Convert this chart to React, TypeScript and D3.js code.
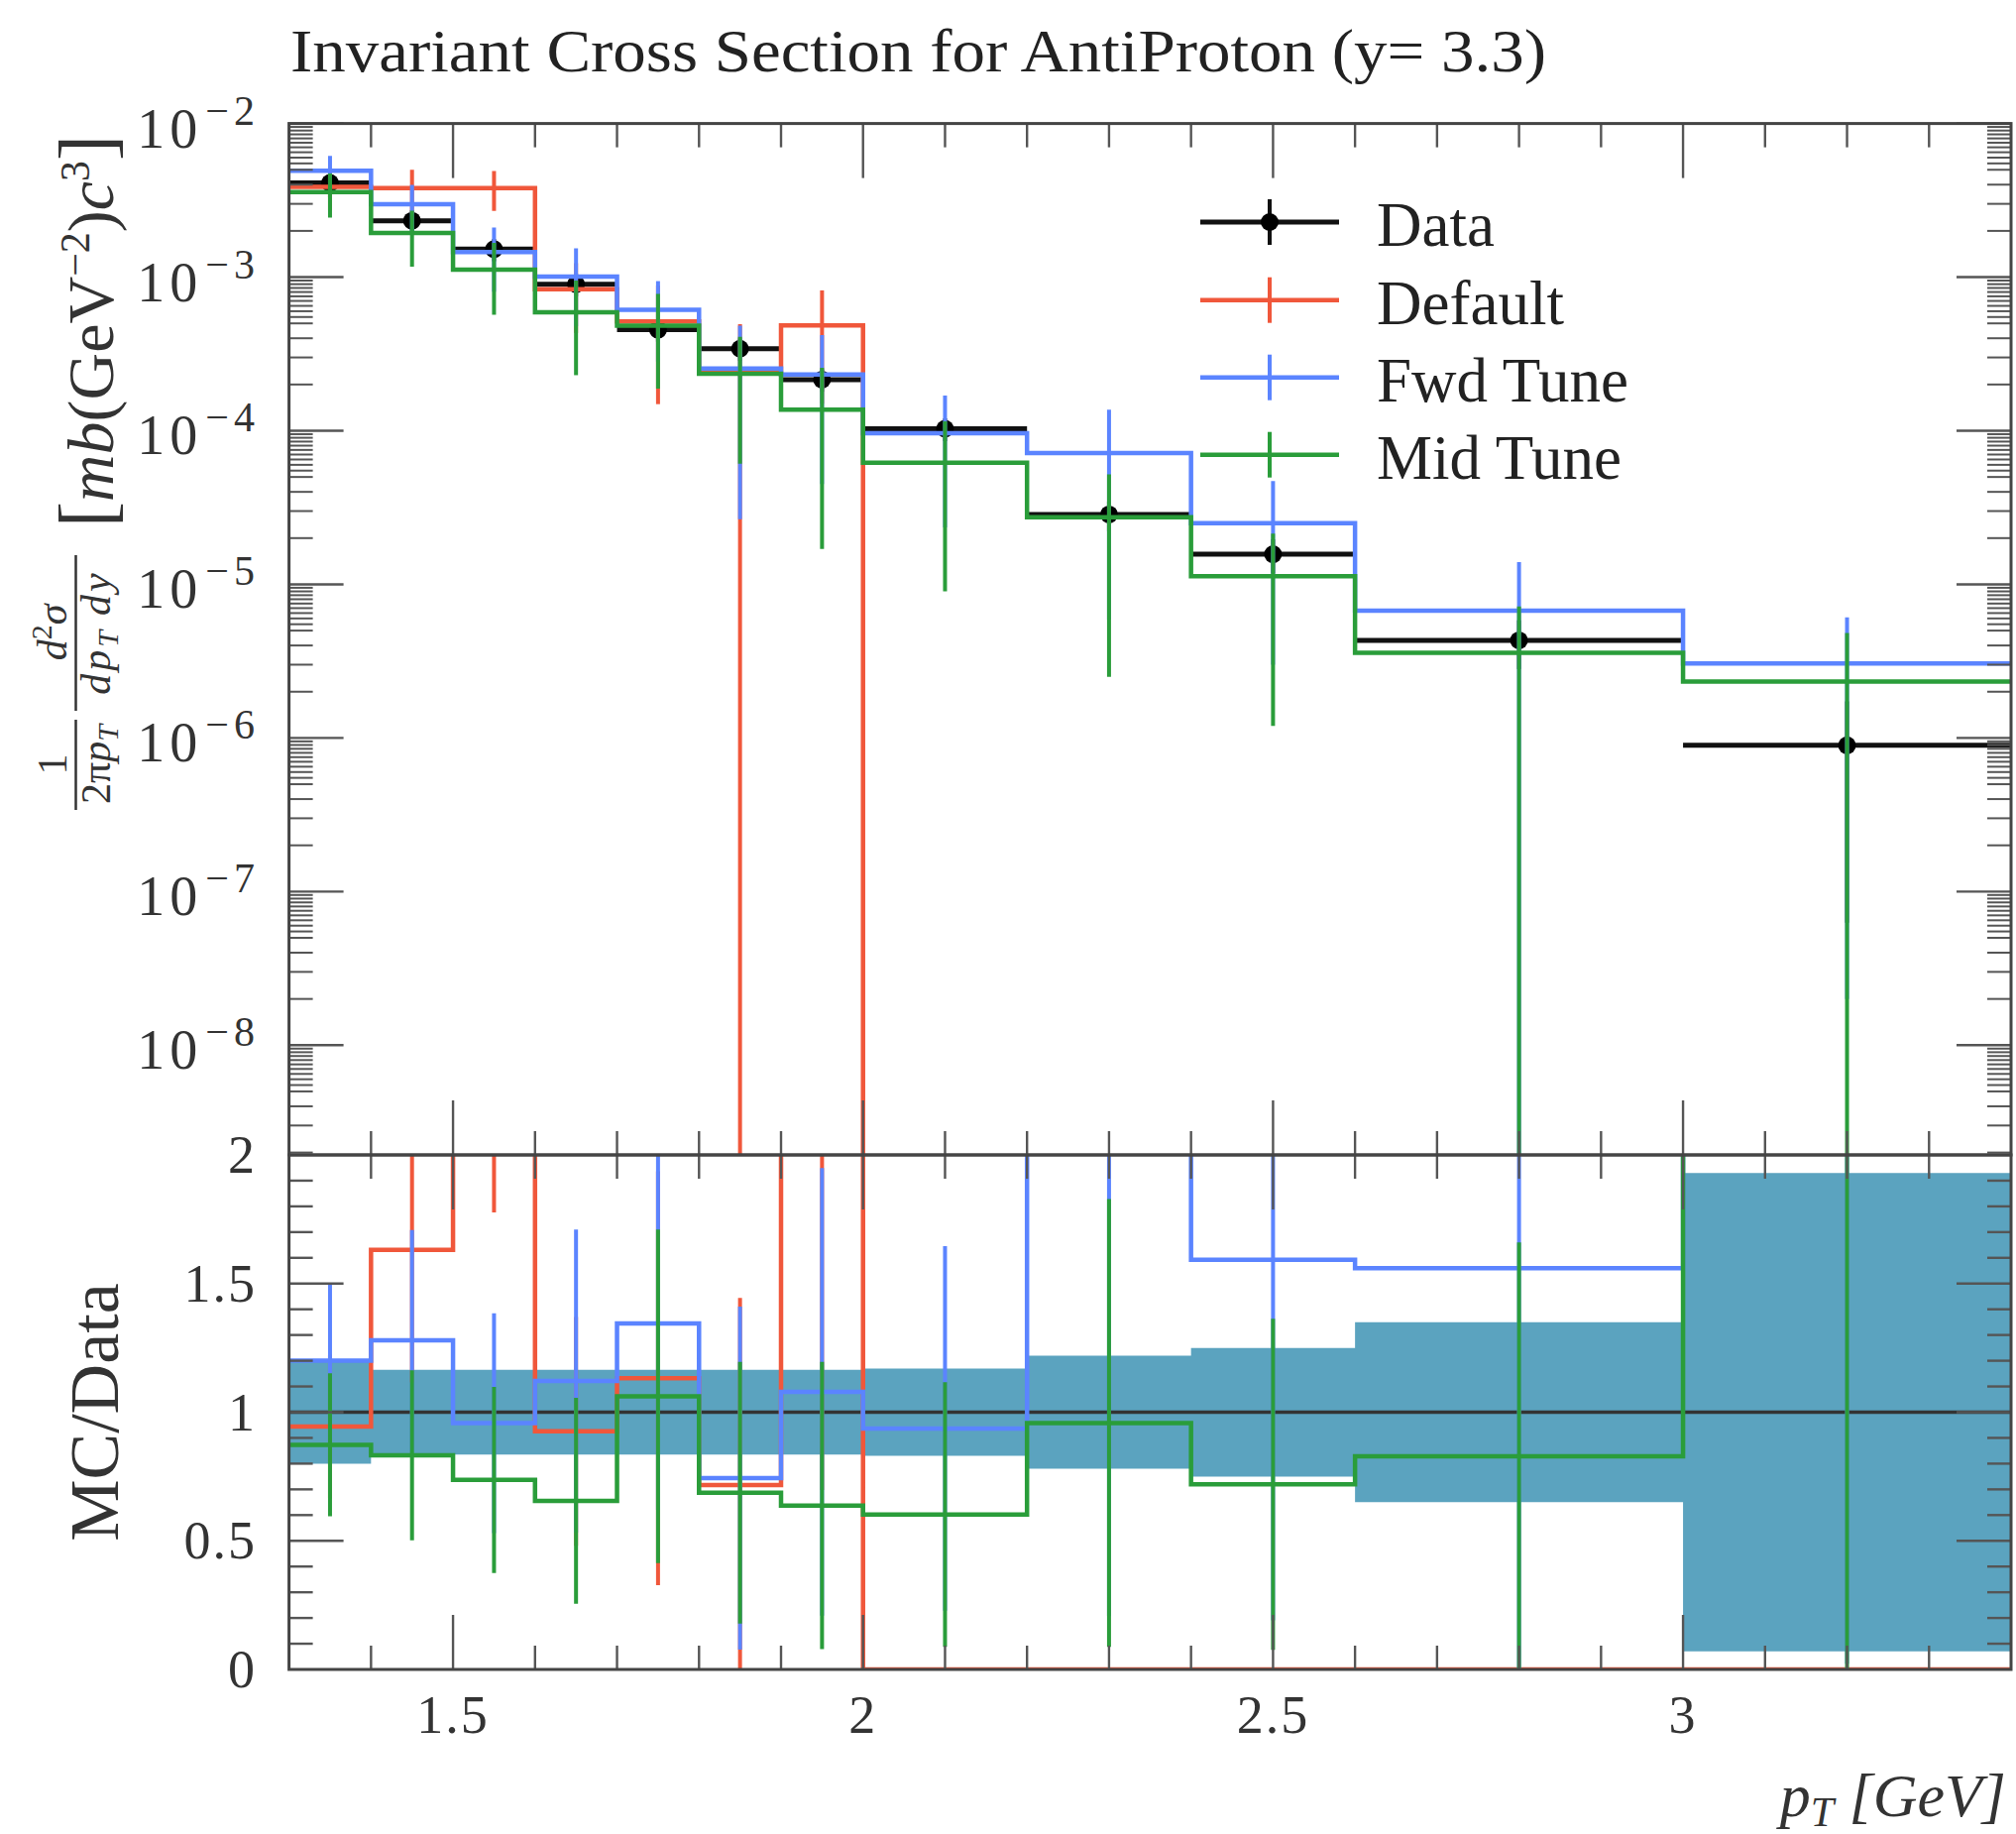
import React from "react";
import * as d3 from "d3";

const W = 2034;
const H = 1850;

// ---- data ----
const binEdges = [1.3, 1.4, 1.5, 1.6, 1.7, 1.8, 1.9, 2.0, 2.2, 2.4, 2.6, 3.0, 3.4];
const dataValues = [4.1e-3, 2.33e-3, 1.52e-3, 9.0e-4, 4.55e-4, 3.42e-4, 2.15e-4, 1.03e-4, 2.85e-5, 1.57e-5, 4.32e-6, 8.95e-7];
const dataRelErr = [0.2, 0.165, 0.165, 0.165, 0.165, 0.165, 0.165, 0.17, 0.22, 0.25, 0.35, 0.93];
const defaultValues = [3.87e-3, 3.8e-3, 3.8e-3, 8.33e-4, 5.15e-4, 2.45e-4, 4.85e-4, 0, 0, 0, 0, 0];
const defaultErrors = [1.15e-3, 1.2e-3, 1.1e-3, 4.0e-4, 3.66e-4, 2.49e-4, 3.35e-4, 0, 0, 0, 0, 0];
const fwdValues = [4.92e-3, 2.98e-3, 1.455e-3, 1.009e-3, 6.12e-4, 2.545e-4, 2.32e-4, 9.65e-5, 7.15e-5, 2.5e-5, 6.74e-6, 3.06e-6];
const fwdErrors = [1.23e-3, 1.0e-3, 6.5e-4, 5.3e-4, 3.3e-4, 2.28e-4, 1.87e-4, 7.3e-5, 6.56e-5, 2.2e-5, 7.2e-6, 3.04e-6];
const midValues = [3.58e-3, 1.94e-3, 1.12e-3, 5.9e-4, 4.83e-4, 2.35e-4, 1.37e-4, 6.2e-5, 2.73e-5, 1.13e-5, 3.58e-6, 2.33e-6];
const midErrors = [1.14e-3, 7.7e-4, 5.5e-4, 3.6e-4, 2.95e-4, 1.74e-4, 1.2e-4, 5.3e-5, 2.48e-5, 1.01e-5, 3.59e-6, 2.5e-6];

const seriesNames = ["Default", "Fwd Tune", "Mid Tune"];
const seriesColors = ["#F0573B", "#5B84FF", "#2A9D3A"];
const seriesValues = [defaultValues, fwdValues, midValues];
const seriesErrors = [defaultErrors, fwdErrors, midErrors];

const xTickLabels = [1.5, 2, 2.5, 3];
const ratioTickLabels = [0, 0.5, 1, 1.5, 2];
const decadeExponents = [-2, -3, -4, -5, -6, -7, -8];

const FONT = "'Liberation Serif', 'DejaVu Serif', serif";

export default function App() {
  React.useEffect(() => {
    document.body.style.margin = "0";
  }, []);

  const xL = 291.6, xR = 2029;
  const yTop = 124.6, yMid = 1165, yBot = 1684;
  const x = d3.scaleLinear().domain([1.3, 3.4]).range([xL, xR]);
  const yU = d3.scaleLog().domain([1.93e-9, 1e-2]).range([yMid, yTop]);
  const yR = d3.scaleLinear().domain([0, 2]).range([yBot, yMid]);
  const yUs = (v: number) => (v > 0 ? yU(v) : yMid + 60);

  const nb = dataValues.length;
  const centers = d3.range(nb).map((i) => (binEdges[i] + binEdges[i + 1]) / 2);
  const line = d3.line<[number, number]>();

  const stepPts = (vals: number[], fy: (v: number) => number): [number, number][] => {
    const pts: [number, number][] = [];
    vals.forEach((v, i) => {
      pts.push([x(binEdges[i]), fy(v)]);
      pts.push([x(binEdges[i + 1]), fy(v)]);
    });
    return pts;
  };

  const ratioVals = (vals: number[]) => vals.map((v, i) => v / dataValues[i]);
  const ratioErrs = (errs: number[]) => errs.map((e, i) => e / dataValues[i]);

  const bandArea = d3
    .area<{ xx: number; lo: number; hi: number }>()
    .x((d) => x(d.xx))
    .y0((d) => yR(Math.max(d.lo, -0.5)))
    .y1((d) => yR(Math.min(d.hi, 3)));
  const bandSeq: { xx: number; lo: number; hi: number }[] = [];
  dataRelErr.forEach((e, i) => {
    bandSeq.push({ xx: binEdges[i], lo: 1 - e, hi: 1 + e });
    bandSeq.push({ xx: binEdges[i + 1], lo: 1 - e, hi: 1 + e });
  });

  // ticks
  const xMinor = d3.range(13, 35).map((v) => v / 10);
  const isMajorX = (v: number) => Math.abs(v * 2 - Math.round(v * 2)) < 1e-6;
  const logMinor: number[] = [];
  for (let e = -9; e <= -3; e++) {
    for (const m of [2, 3, 4, 5, 5.5, 6, 6.5, 7, 7.5, 8, 8.5, 9, 9.5]) {
      const v = m * Math.pow(10, e);
      if (v > 1.93e-9 && v < 1e-2) logMinor.push(v);
    }
  }
  const ratioMinor = d3.range(0, 21).map((v) => v / 10);

  const tickColor = "#555";
  const tickW = 2.4;
  const majLen = 55;
  const minLen = 24;

  const ticks: JSX.Element[] = [];
  xMinor.forEach((v, i) => {
    const L = isMajorX(v) ? majLen : minLen;
    const xx = x(v);
    if (v <= 1.3 + 1e-6 || v >= 3.4 - 1e-6) return;
    [
      [yTop, yTop + L],
      [yMid, yMid - L],
      [yMid, yMid + L],
      [yBot, yBot - L],
    ].forEach(([a, b], k) =>
      ticks.push(<line key={`xt${i}-${k}`} x1={xx} x2={xx} y1={a} y2={b} stroke={tickColor} strokeWidth={tickW} />)
    );
  });
  decadeExponents.forEach((e) => {
    const yy = yU(Math.pow(10, e));
    ticks.push(<line key={`yd${e}l`} x1={xL} x2={xL + majLen} y1={yy} y2={yy} stroke={tickColor} strokeWidth={tickW} />);
    ticks.push(<line key={`yd${e}r`} x1={xR} x2={xR - majLen} y1={yy} y2={yy} stroke={tickColor} strokeWidth={tickW} />);
  });
  logMinor.forEach((v, i) => {
    const yy = yU(v);
    ticks.push(<line key={`ym${i}l`} x1={xL} x2={xL + minLen} y1={yy} y2={yy} stroke={tickColor} strokeWidth={2} />);
    ticks.push(<line key={`ym${i}r`} x1={xR} x2={xR - minLen} y1={yy} y2={yy} stroke={tickColor} strokeWidth={2} />);
  });
  ratioMinor.forEach((v, i) => {
    if (v <= 0 || v >= 2) return;
    const maj = Math.abs(v * 2 - Math.round(v * 2)) < 1e-6;
    const L = maj ? majLen : minLen;
    const yy = yR(v);
    ticks.push(<line key={`rm${i}l`} x1={xL} x2={xL + L} y1={yy} y2={yy} stroke={tickColor} strokeWidth={tickW} />);
    ticks.push(<line key={`rm${i}r`} x1={xR} x2={xR - L} y1={yy} y2={yy} stroke={tickColor} strokeWidth={tickW} />);
  });

  const histW = 4.5;
  const errW = 4;

  const legendRows = [
    { name: "Data", color: "#111", y: 224 },
    ...seriesNames.map((n, i) => ({ name: n, color: seriesColors[i], y: 302.7 + i * 78 })),
  ];

  return (
    <div style={{ position: "absolute", left: 0, top: 0, width: W, height: H }}>
      <svg width={W} height={H} viewBox={`0 0 ${W} ${H}`} style={{ display: "block", fontFamily: FONT }}>
        <rect x={0} y={0} width={W} height={H} fill="#fff" />
        <defs>
          <clipPath id="clipU">
            <rect x={xL} y={yTop} width={xR - xL} height={yMid - yTop} />
          </clipPath>
          <clipPath id="clipR">
            <rect x={xL} y={yMid} width={xR - xL} height={yBot - yMid} />
          </clipPath>
        </defs>

        {/* Title */}
        <text x={293} y={72} fontSize={62} fill="#222" textLength={1267} lengthAdjust="spacingAndGlyphs">
          Invariant Cross Section for AntiProton (y= 3.3)
        </text>

        {/* ===== Upper panel ===== */}
        <g clipPath="url(#clipU)">
          {dataValues.map((v, i) => (
            <g key={`d${i}`}>
              <line x1={x(binEdges[i])} x2={x(binEdges[i + 1])} y1={yU(v)} y2={yU(v)} stroke="#111" strokeWidth={5} />
              <line
                x1={x(centers[i])}
                x2={x(centers[i])}
                y1={yUs(v * (1 - dataRelErr[i]))}
                y2={yUs(v * (1 + dataRelErr[i]))}
                stroke="#111"
                strokeWidth={errW}
              />
              <circle cx={x(centers[i])} cy={yU(v)} r={9} fill="#000" />
            </g>
          ))}
          {seriesValues.map((vals, s) => (
            <g key={`s${s}`}>
              <path d={line(stepPts(vals, yUs)) || ""} fill="none" stroke={seriesColors[s]} strokeWidth={histW} />
              {vals.map((v, i) =>
                seriesErrors[s][i] > 0 ? (
                  <line
                    key={`e${i}`}
                    x1={x(centers[i])}
                    x2={x(centers[i])}
                    y1={yUs(v - seriesErrors[s][i])}
                    y2={yUs(v + seriesErrors[s][i])}
                    stroke={seriesColors[s]}
                    strokeWidth={errW}
                  />
                ) : null
              )}
            </g>
          ))}
        </g>

        {/* ===== Ratio panel ===== */}
        <g clipPath="url(#clipR)">
          <path d={bandArea(bandSeq) || ""} fill="#5BA3BF" />
          <line x1={xL} x2={xR} y1={yR(1)} y2={yR(1)} stroke="#333" strokeWidth={3.5} />
          {seriesValues.map((vals, s) => {
            const rv = ratioVals(vals);
            const re = ratioErrs(seriesErrors[s]);
            const fy = (v: number) => yR(Math.max(-0.2, Math.min(2.2, v)));
            return (
              <g key={`r${s}`}>
                <path d={line(stepPts(rv, fy)) || ""} fill="none" stroke={seriesColors[s]} strokeWidth={histW} />
                {rv.map((v, i) =>
                  re[i] > 0 ? (
                    <line
                      key={`re${i}`}
                      x1={x(centers[i])}
                      x2={x(centers[i])}
                      y1={fy(v - re[i])}
                      y2={fy(v + re[i])}
                      stroke={seriesColors[s]}
                      strokeWidth={errW}
                    />
                  ) : null
                )}
              </g>
            );
          })}
        </g>

        {/* ticks and frames */}
        {ticks}
        <rect x={xL} y={yTop} width={xR - xL} height={yMid - yTop} fill="none" stroke="#444" strokeWidth={3} />
        <rect x={xL} y={yMid} width={xR - xL} height={yBot - yMid} fill="none" stroke="#444" strokeWidth={3} />

        {/* upper y tick labels */}
        {decadeExponents.map((e) => (
          <text
            key={`yl${e}`}
            x={262}
            y={yU(Math.pow(10, e)) + 24}
            textAnchor="end"
            fontSize={56}
            letterSpacing={5}
            fill="#333"
          >
            10
            <tspan fontSize={42} dy={-23} dx={3}>
              {"\u2212" + Math.abs(e)}
            </tspan>
          </text>
        ))}

        {/* ratio tick labels */}
        {ratioTickLabels.map((v) => (
          <text key={`rl${v}`} x={259} y={yR(v) + 18} textAnchor="end" fontSize={54} letterSpacing={2} fill="#333">
            {String(v)}
          </text>
        ))}

        {/* x tick labels */}
        {xTickLabels.map((v) => (
          <text key={`xl${v}`} x={x(v)} y={1748} textAnchor="middle" fontSize={54} letterSpacing={2} fill="#333">
            {String(v)}
          </text>
        ))}

        {/* x axis label */}
        <text x={2024} y={1832} textAnchor="end" fontSize={62} fontStyle="italic" fill="#333">
          p<tspan fontSize={42} dy={10}>T</tspan>
          <tspan dy={-10}> [GeV]</tspan>
        </text>

        {/* ratio y label */}
        <text transform={`translate(119, ${yR(1)}) rotate(-90)`} textAnchor="middle" fontSize={70} fill="#333">
          MC/Data
        </text>

        {/* upper y label */}
        <g transform="translate(76.5,0) rotate(-90)" fill="#333">
          <text x={-771} y={-10} textAnchor="middle" fontSize={42}>1</text>
          <line x1={-817} x2={-726} y1={0} y2={0} stroke="#333" strokeWidth={2.5} />
          <text x={-771} y={34} textAnchor="middle" fontSize={42}>
            2π<tspan fontStyle="italic">p</tspan>
            <tspan fontStyle="italic" fontSize={30} dy={8}>T</tspan>
          </text>
          <text x={-638} y={-10} textAnchor="middle" fontSize={42} fontStyle="italic">
            d<tspan fontSize={30} dy={-15} fontStyle="normal">2</tspan>
            <tspan dy={15}>σ</tspan>
          </text>
          <line x1={-717} x2={-560} y1={0} y2={0} stroke="#333" strokeWidth={2.5} />
          <text x={-638} y={34} textAnchor="middle" fontSize={42} fontStyle="italic" letterSpacing={3}>
            dp<tspan fontSize={30} dy={8}>T</tspan>
            <tspan dy={-8} dx={12}>dy</tspan>
          </text>
          <text x={-334} y={37} textAnchor="middle" fontSize={66}>
            <tspan fontSize={78}>[</tspan>
            <tspan fontStyle="italic">mb</tspan>(GeV
            <tspan fontSize={42} dy={-24}>{"\u22122"}</tspan>
            <tspan dy={24}>)</tspan>
            <tspan fontStyle="italic">c</tspan>
            <tspan fontSize={42} dy={-24}>3</tspan>
            <tspan fontSize={78} dy={24}>]</tspan>
          </text>
        </g>

        {/* legend */}
        {legendRows.map((r, i) => (
          <g key={`lg${i}`}>
            <line x1={1211} x2={1351} y1={r.y} y2={r.y} stroke={r.color} strokeWidth={i === 0 ? 5 : histW} />
            <line x1={1281} x2={1281} y1={r.y - 23} y2={r.y + 23} stroke={r.color} strokeWidth={errW} />
            {i === 0 ? <circle cx={1281} cy={r.y} r={9} fill="#000" /> : null}
            <text x={1389} y={r.y + 24} fontSize={63} fill="#222">
              {r.name}
            </text>
          </g>
        ))}
      </svg>
    </div>
  );
}
